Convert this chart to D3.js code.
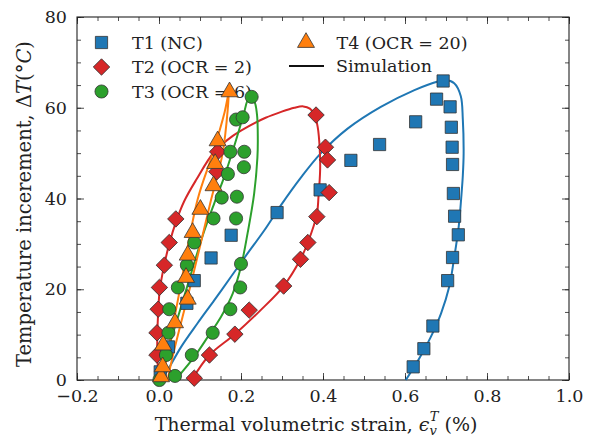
<!DOCTYPE html>
<html><head><meta charset="utf-8">
<script src="https://cdn.jsdelivr.net/npm/d3@7"></script>
<style>body{margin:0;background:#fff}svg{display:block}text{font-family:"DejaVu Serif",serif;fill:#222}</style>
</head><body><svg id="c" width="590" height="445"></svg>
<script>
// ---- data ----
const xTicks = [-0.2, 0.0, 0.2, 0.4, 0.6, 0.8, 1.0];
const yTicks = [0, 20, 40, 60, 80];
const seriesNames = ["T1 (NC)", "T2 (OCR = 2)", "T3 (OCR = 6)", "T4 (OCR = 20)"];
const colors = ["#1f77b4", "#d62728", "#2ca02c", "#ff7f0e"];

const t1Strain = [0.003,0.023,0.068,0.086,0.127,0.176,0.288,0.393,0.468,0.538,0.626,0.677,0.693,0.710,0.713,0.715,0.716,0.718,0.721,0.730,0.716,0.704,0.668,0.646,0.620];
const t1Temp   = [1.8,7.3,16.9,21.9,26.9,31.9,36.9,41.9,48.4,51.9,56.9,61.9,65.9,60.2,55.7,51.3,47.5,41.1,36.1,32.0,27.0,21.9,11.9,6.9,2.9];

const t2Strain = [-0.005,-0.005,-0.002,0.001,0.013,0.025,0.041,0.141,0.143,0.383,0.406,0.411,0.415,0.385,0.363,0.345,0.304,0.220,0.185,0.123,0.086];
const t2Temp   = [5.5,10.4,15.6,20.4,25.3,30.3,35.5,45.9,50.3,58.4,51.3,48.5,41.3,36.0,30.3,26.6,20.7,15.4,10.1,5.5,0.4];

const t3Strain = [0.001,0.017,0.023,0.025,0.046,0.068,0.086,0.133,0.153,0.168,0.174,0.188,0.226,0.204,0.208,0.207,0.190,0.188,0.200,0.198,0.174,0.131,0.080,0.039];
const t3Temp   = [0.0,5.5,10.4,15.6,20.4,25.3,30.3,35.6,40.2,45.4,50.3,57.4,62.4,57.9,50.3,46.9,40.4,35.6,25.6,20.4,15.6,10.4,5.5,0.9];

const t4Strain = [0.005,0.009,0.010,0.039,0.070,0.066,0.070,0.082,0.101,0.133,0.137,0.143,0.172];
const t4Temp   = [0.7,2.9,7.7,12.6,17.8,22.6,27.5,32.5,37.6,42.8,47.7,52.7,63.5];

// simulation curves
const sim1Strain = [0.005,0.02,0.054,0.094,0.135,0.176,0.216,0.257,0.298,0.346,0.395,0.46,0.541,0.623,0.680,0.698,0.720,0.736,0.741,0.743,0.741,0.737,0.731,0.719,0.708,0.688,0.663,0.635,0.602];
const sim1Temp   = [0,2,7.3,12.5,17.6,22.8,27.9,33.0,38.6,44.6,50.0,55.4,60.2,63.9,65.8,66.1,65.4,62.6,57.5,50,45,40,33.8,26.4,20.6,14.7,9.5,4.8,0];

const sim2Strain = [0.0,-0.004,-0.004,-0.002,0.002,0.012,0.025,0.042,0.062,0.090,0.135,0.180,0.216,0.260,0.298,0.330,0.352,0.368,0.379,0.387,0.392,0.393,0.389,0.385,0.363,0.345,0.304,0.248,0.185,0.123,0.080];
const sim2Temp   = [0,5,10,15,20,25,30,35,39.5,44,50.3,53.8,55.8,57.8,59.1,60.0,60.3,59.8,58.5,55.8,51,46.3,40.4,36.5,30.3,26.6,20.7,15.4,10.1,5.5,0];

const sim3Strain = [0.003,0.017,0.033,0.050,0.070,0.090,0.111,0.135,0.160,0.185,0.205,0.220,0.232,0.239,0.241,0.240,0.232,0.216,0.200,0.180,0.151,0.119,0.086,0.054,0.041];
const sim3Temp   = [0,5,10,15,21,27,33,39,45,52,58,62.2,61.5,58.5,53,49,41,32.3,25,19.1,13.9,9.5,5.1,1.5,0];

const sim4Strain = [0.005,0.012,0.046,0.094,0.131,0.160,0.170,0.168,0.155,0.127,0.080,0.033,0.021];
const sim4Temp   = [0,2,17.6,39.7,49.9,59,63.2,60,49.9,39.7,22,5.1,0];

// ---- layout ----
const W = 590, H = 445;
const mg = {left: 77, right: 21, top: 17, bottom: 65};
const svg = d3.select("#c");
const x = d3.scaleLinear().domain([-0.2, 1.0]).range([mg.left, W - mg.right]);
const y = d3.scaleLinear().domain([0, 80]).range([H - mg.bottom, mg.top]);

const fmtX = d => d < 0 ? "\u2212" + Math.abs(d).toFixed(1) : d.toFixed(1);

const minorX = d3.range(-0.2, 1.0001, 0.05).map(v => +v.toFixed(2));
const minorY = d3.range(0, 80.001, 5);
function axisG(axis, tx) { return svg.append("g").attr("transform", tx).call(axis); }
axisG(d3.axisBottom(x).tickValues(xTicks).tickFormat(fmtX).tickSizeInner(-7).tickSizeOuter(0).tickPadding(10), `translate(0,${y(0)})`);
axisG(d3.axisBottom(x).tickValues(minorX).tickFormat("").tickSizeInner(-4).tickSizeOuter(0), `translate(0,${y(0)})`);
axisG(d3.axisTop(x).tickValues(xTicks).tickFormat("").tickSizeInner(-7).tickSizeOuter(0), `translate(0,${y(80)})`);
axisG(d3.axisTop(x).tickValues(minorX).tickFormat("").tickSizeInner(-4).tickSizeOuter(0), `translate(0,${y(80)})`);
axisG(d3.axisLeft(y).tickValues(yTicks).tickFormat(d3.format("d")).tickSizeInner(-7).tickSizeOuter(0).tickPadding(10), `translate(${x(-0.2)},0)`);
axisG(d3.axisLeft(y).tickValues(minorY).tickFormat("").tickSizeInner(-4).tickSizeOuter(0), `translate(${x(-0.2)},0)`);
axisG(d3.axisRight(y).tickValues(yTicks).tickFormat("").tickSizeInner(-7).tickSizeOuter(0), `translate(${x(1.0)},0)`);
axisG(d3.axisRight(y).tickValues(minorY).tickFormat("").tickSizeInner(-4).tickSizeOuter(0), `translate(${x(1.0)},0)`);
svg.selectAll(".domain").remove();
svg.selectAll(".tick line").attr("stroke", "#222").attr("stroke-width", 0.8);
svg.selectAll(".tick text").style("font-family", "DejaVu Serif, serif").style("font-size", "17.5px").attr("fill", "#222");

// frame
svg.append("rect").attr("x", x(-0.2)).attr("y", y(80)).attr("width", x(1.0) - x(-0.2)).attr("height", y(0) - y(80))
  .attr("fill", "none").attr("stroke", "#222").attr("stroke-width", 1.1);

// axis labels
const xl = svg.append("text").attr("x", 316).attr("y", 431).attr("text-anchor", "middle").style("font-size", "19px");
xl.append("tspan").text("Thermal volumetric strain, ");
xl.append("tspan").style("font-style", "italic").text("\u03f5");
xl.append("tspan").style("font-style", "italic").style("font-size", "13px").attr("dy", 4).text("v");
xl.append("tspan").style("font-style", "italic").style("font-size", "13px").attr("dx", -7).attr("dy", -14).text("T");
xl.append("tspan").attr("dy", 10).text(" (%)");

const yl = svg.append("text").attr("transform", `translate(31,204) rotate(-90)`).attr("text-anchor", "middle").style("font-size", "19.5px");
yl.append("tspan").text("Temperature incerement, \u0394");
yl.append("tspan").style("font-style", "italic").text("T");
yl.append("tspan").text("(\u00b0");
yl.append("tspan").style("font-style", "italic").text("C");
yl.append("tspan").text(")");

// markers
const sym = [d3.symbolSquare, d3.symbolSquare, d3.symbolCircle, d3.symbolTriangle];
const symSize = [150, 135, 135, 125];
function markerPath(i) { return d3.symbol().type(sym[i]).size(symSize[i])(); }
function markerTransform(i, cx, cy) { return i === 1 ? `translate(${cx},${cy}) rotate(45)` : `translate(${cx},${cy})`; }

// legend (drawn under data)
const legPos = [[101.5, 42.5], [101.5, 67], [101.5, 91.5], [306, 42.5]];
seriesNames.forEach((n, i) => {
  const [lx, ly] = legPos[i];
  svg.append("path").attr("d", markerPath(i)).attr("transform", markerTransform(i, lx, ly))
    .attr("fill", colors[i]).attr("stroke", "#333").attr("stroke-width", 0.8);
  svg.append("text").attr("x", lx + 30.5).attr("y", ly + 6).style("font-size", "17.5px").text(n);
});
svg.append("line").attr("x1", 289).attr("x2", 324).attr("y1", 66).attr("y2", 66).attr("stroke", "#111").attr("stroke-width", 2);
svg.append("text").attr("x", 336).attr("y", 72).style("font-size", "17.5px").text("Simulation");

// simulation lines
const sims = [[sim1Strain, sim1Temp], [sim2Strain, sim2Temp], [sim3Strain, sim3Temp], [sim4Strain, sim4Temp]];
const line = d3.line().x(d => x(d[0])).y(d => y(d[1])).curve(d3.curveCatmullRom.alpha(0.5));
sims.forEach(([sx, sy], i) => {
  svg.append("path").datum(sx.map((v, k) => [v, sy[k]])).attr("d", line)
    .attr("fill", "none").attr("stroke", colors[i]).attr("stroke-width", 2);
});

// experimental markers
const exps = [[t1Strain, t1Temp], [t2Strain, t2Temp], [t3Strain, t3Temp], [t4Strain, t4Temp]];
exps.forEach(([ex, ey], i) => {
  svg.append("g").selectAll("path").data(ex.map((v, k) => [v, ey[k]])).join("path")
    .attr("d", markerPath(i)).attr("transform", d => markerTransform(i, x(d[0]), y(d[1])))
    .attr("fill", colors[i]).attr("stroke", "#333").attr("stroke-width", 0.8);
});
</script></body></html>
